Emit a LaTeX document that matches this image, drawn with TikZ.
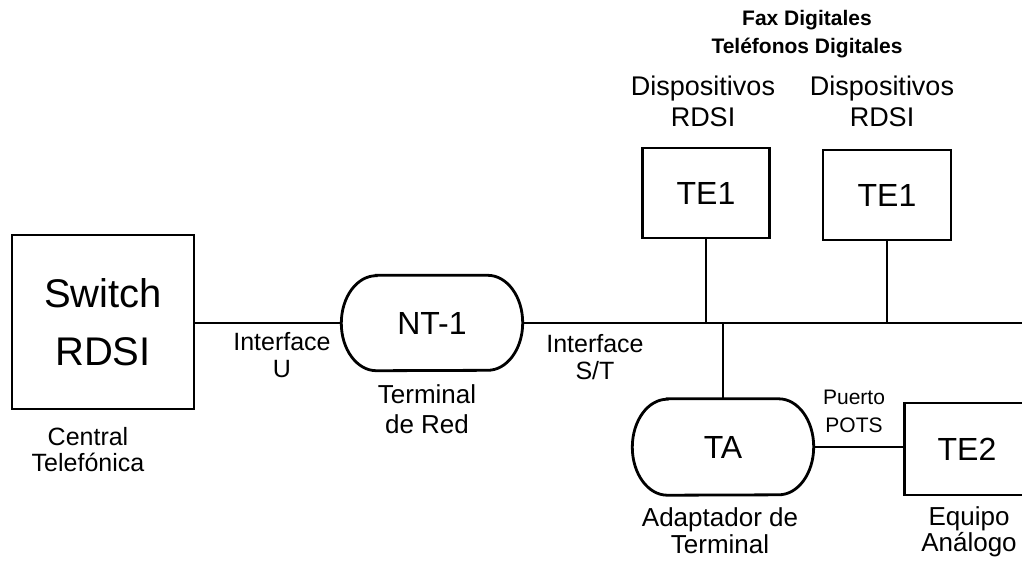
\documentclass[tikz,border=0pt]{standalone}
\usepackage{fontspec}
\setmainfont{Liberation Sans}
% capsule outline: straight top and bottom, elliptical ends
\newcommand{\capsuleoutline}[3]{%
  \draw[line] ([xshift=#2]#1.north west) -- ([xshift=-#2]#1.north east)
    arc[start angle=90,end angle=-90,x radius=#2,y radius=#3]
    -- ([xshift=#2]#1.south west)
    arc[start angle=270,end angle=90,x radius=#2,y radius=#3] -- cycle;}
\begin{document}
\begin{tikzpicture}[x=1pt,y=-1pt,
  line/.style={line width=2.8pt},
  box/.style={draw, line width=2.8pt, inner sep=0pt},
  capsule/.style={inner sep=0pt, minimum width=181pt, minimum height=95pt},
  tename/.style={font=\fontsize{32}{36}\selectfont},
  lbl/.style={font=\fontsize{25}{27}\selectfont, align=center, inner sep=0pt}]
\useasboundingbox (0,0) rectangle (1022,566);
\clip (0,0) rectangle (1022,566);

% equipment
\node[box, minimum width=182pt, minimum height=174pt, align=center,
      font=\fontsize{40}{58}\selectfont] (sw) at (103,322) {Switch\\RDSI};
\node[capsule, tename] (nt) at (432,323) {NT-1};
\node[capsule, tename, minimum height=96pt] (ta) at (723,447) {TA};
\node[box, tename, minimum width=127pt, minimum height=90pt] (te1a) at (706,193) {TE1};
\node[box, tename, minimum width=128pt, minimum height=90pt] (te1b) at (887,195) {TE1};
\node[box, tename, minimum width=125pt, minimum height=92pt] (te2) at (967,449) {TE2};
\capsuleoutline{nt}{35pt}{47.5pt}
\capsuleoutline{ta}{35pt}{48pt}

% S/T bus and links
\coordinate (busend) at (1030,323);
\draw[line] (sw.east |- nt.west) -- (nt.west);
\draw[line] (nt.east) -- (nt.east -| busend);
\draw[line] (te1a.south) -- (te1a.south |- nt.east);
\draw[line] (te1b.south) -- (te1b.south |- nt.east);
\draw[line] (ta.north) -- (ta.north |- nt.east);
\draw[line] (ta.east) -- (ta.east -| te2.west);

% labels
\node[lbl] (ifu) at (282,355) {Interface\\U};
\node[lbl] (ifst) at (595,357) {Interface\\S/T};
\node[lbl, font=\fontsize{26}{30}\selectfont] (tred) at (427,409) {Terminal\\de Red};
\node[lbl, font=\fontsize{25}{26}\selectfont] (cent) at (88,450) {Central\\Telefónica};
\node[lbl, font=\fontsize{26}{27}\selectfont] (adap) at (720,531) {Adaptador de\\Terminal};
\node[lbl, font=\fontsize{21}{28}\selectfont] (pots) at (854,411) {Puerto\\POTS};
\node[lbl, font=\fontsize{26}{26}\selectfont] (equ) at (969,532) {Equipo\\Análogo};
\node[lbl, font=\fontsize{27}{31}\selectfont] (disa) at (703,101) {Dispositivos\\RDSI};
\node[lbl, font=\fontsize{27}{31}\selectfont] (disb) at (882,101) {Dispositivos\\RDSI};
\node[lbl, font=\bfseries\fontsize{21}{28}\selectfont] (fax) at (807,34) {Fax Digitales\\Teléfonos Digitales};
\end{tikzpicture}
\end{document}
